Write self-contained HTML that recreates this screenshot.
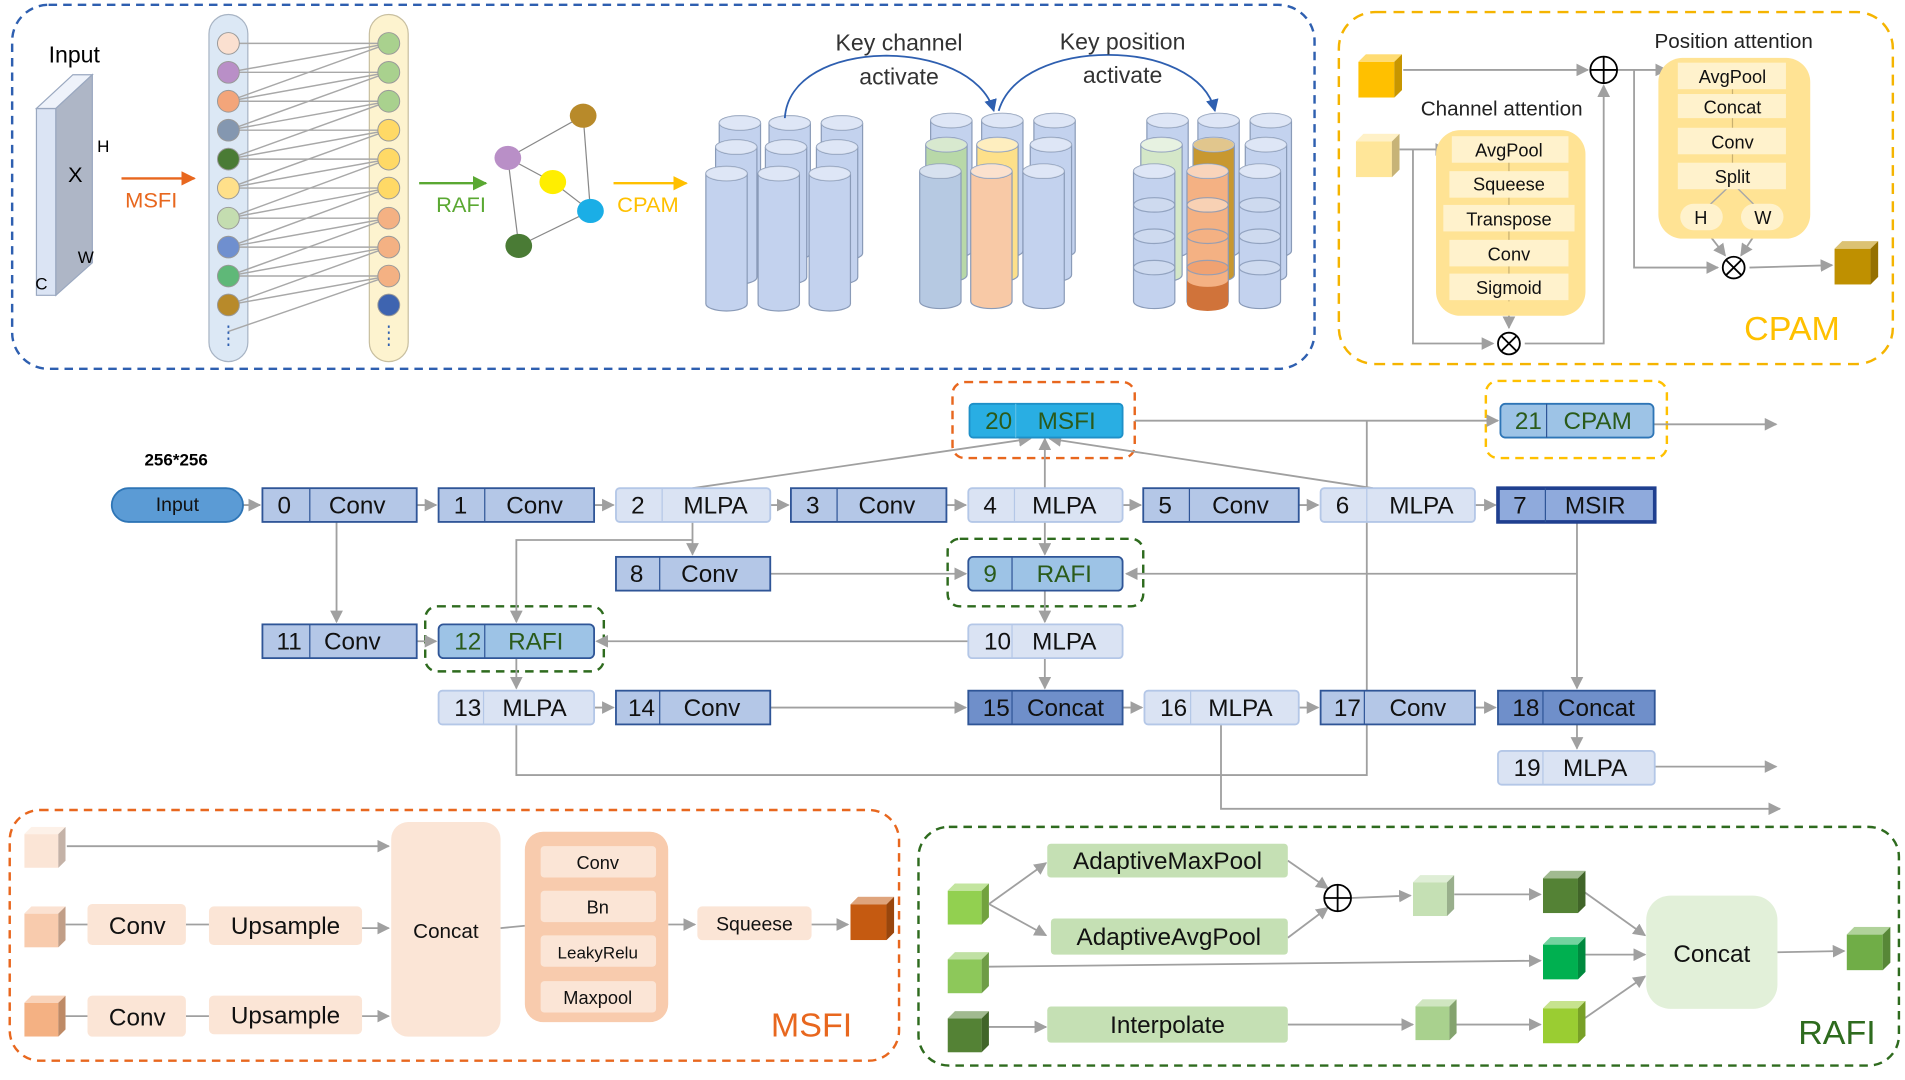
<!DOCTYPE html>
<html><head><meta charset="utf-8"><style>
html,body{margin:0;padding:0;background:#fff;}
svg{display:block;}
text{font-family:"Liberation Sans",sans-serif;}
</style></head><body>
<svg width="1905" height="1080" viewBox="0 0 1568 896" preserveAspectRatio="none" xmlns="http://www.w3.org/2000/svg">
<defs>
<marker id="ar" viewBox="0 0 10 10" refX="9" refY="5" markerWidth="7" markerHeight="7" orient="auto"><path d="M0,0L10,5L0,10z" fill="#a0a0a0"/></marker>
<marker id="ab" viewBox="0 0 10 10" refX="9" refY="5" markerWidth="7" markerHeight="7" orient="auto"><path d="M0,0L10,5L0,10z" fill="#2e5fb0"/></marker>
<marker id="ao" viewBox="0 0 10 10" refX="9" refY="5" markerWidth="6" markerHeight="6" orient="auto"><path d="M0,0L10,5L0,10z" fill="#e8671e"/></marker>
<marker id="ag" viewBox="0 0 10 10" refX="9" refY="5" markerWidth="6" markerHeight="6" orient="auto"><path d="M0,0L10,5L0,10z" fill="#5aa832"/></marker>
<marker id="ay" viewBox="0 0 10 10" refX="9" refY="5" markerWidth="6" markerHeight="6" orient="auto"><path d="M0,0L10,5L0,10z" fill="#ffc000"/></marker>
<symbol id="cube" viewBox="0 0 34 34">
<rect x="0" y="6" width="28" height="28" fill="currentColor"/>
<polygon points="0,6 6,0 34,0 28,6" fill="currentColor"/><polygon points="0,6 6,0 34,0 28,6" fill="#fff" opacity="0.45"/>
<polygon points="28,6 34,0 34,28 28,34" fill="currentColor"/><polygon points="28,6 34,0 34,28 28,34" fill="#000" opacity="0.22"/>
</symbol>
<symbol id="cyl" viewBox="0 0 36 122" overflow="visible">
<path d="M1,7 V115 A17,6 0 0 0 35,115 V7" fill="currentColor" stroke="#8a9bb8" stroke-width="1"/>
<ellipse cx="18" cy="7" rx="17" ry="6" fill="currentColor" stroke="#8a9bb8"/>
<ellipse cx="18" cy="7" rx="17" ry="6" fill="#fff" opacity="0.45"/>
</symbol>
</defs>

<!-- ============ TOP BLUE BOX ============ -->
<rect x="10" y="4" width="1072" height="302" rx="30" fill="none" stroke="#2e5fb0" stroke-width="2" stroke-dasharray="7,5"/>
<polygon points="30,90 46,90 46,245 30,245" fill="#dbe4f4" stroke="#9aa8c0"/>
<polygon points="30,90 60,62 76,62 46,90" fill="#eef2fa" stroke="#9aa8c0"/>
<polygon points="46,90 76,62 76,218 46,245" fill="#aeb6c6" stroke="#9aa8c0"/>
<text x="40" y="52" font-size="19">Input</text>
<text x="80" y="126" font-size="14">H</text>
<text x="56" y="151" font-size="18">X</text>
<text x="64" y="218" font-size="14">W</text>
<text x="29" y="240" font-size="14">C</text>
<line x1="100" y1="148" x2="160" y2="148" stroke="#e8671e" stroke-width="2" marker-end="url(#ao)"/>
<text x="103" y="172" font-size="18" fill="#e8671e">MSFI</text>

<!-- columns -->
<rect x="172" y="12" width="32" height="288" rx="16" fill="#dce8f5" stroke="#a8b4c4"/>
<rect x="304" y="12" width="32" height="288" rx="16" fill="#fdf3cf" stroke="#c8bfa0"/>
<g stroke="#a8a8a8" stroke-width="1.2">
<line x1="188" y1="36" x2="320" y2="36"/><line x1="188" y1="60" x2="320" y2="60"/><line x1="188" y1="84" x2="320" y2="84"/><line x1="188" y1="108" x2="320" y2="108"/><line x1="188" y1="132" x2="320" y2="132"/><line x1="188" y1="156" x2="320" y2="156"/><line x1="188" y1="181" x2="320" y2="181"/><line x1="188" y1="205" x2="320" y2="205"/><line x1="188" y1="229" x2="320" y2="229"/>
<line x1="188" y1="60" x2="320" y2="36"/><line x1="188" y1="84" x2="320" y2="60"/><line x1="188" y1="108" x2="320" y2="84"/><line x1="188" y1="132" x2="320" y2="108"/><line x1="188" y1="156" x2="320" y2="132"/><line x1="188" y1="181" x2="320" y2="156"/><line x1="188" y1="205" x2="320" y2="181"/><line x1="188" y1="229" x2="320" y2="205"/><line x1="188" y1="253" x2="320" y2="229"/>
<line x1="188" y1="84" x2="320" y2="36"/><line x1="188" y1="108" x2="320" y2="60"/><line x1="188" y1="132" x2="320" y2="84"/><line x1="188" y1="156" x2="320" y2="108"/><line x1="188" y1="181" x2="320" y2="132"/><line x1="188" y1="205" x2="320" y2="156"/><line x1="188" y1="229" x2="320" y2="181"/><line x1="188" y1="253" x2="320" y2="205"/><line x1="188" y1="275" x2="320" y2="229"/>
</g>
<g stroke="#999" stroke-width="0.8">
<circle cx="188" cy="36" r="9" fill="#fbe0d0"/><circle cx="188" cy="60" r="9" fill="#b98fc7"/><circle cx="188" cy="84" r="9" fill="#f3a57a"/><circle cx="188" cy="108" r="9" fill="#8497b0"/><circle cx="188" cy="132" r="9" fill="#4a7b35"/><circle cx="188" cy="156" r="9" fill="#ffe08a"/><circle cx="188" cy="181" r="9" fill="#c4ddb0"/><circle cx="188" cy="205" r="9" fill="#6f8fcf"/><circle cx="188" cy="229" r="9" fill="#5fb878"/><circle cx="188" cy="253" r="9" fill="#b88a2a"/>
<circle cx="320" cy="36" r="9" fill="#a9d18e"/><circle cx="320" cy="60" r="9" fill="#a9d18e"/><circle cx="320" cy="84" r="9" fill="#a9d18e"/><circle cx="320" cy="108" r="9" fill="#ffd966"/><circle cx="320" cy="132" r="9" fill="#ffd966"/><circle cx="320" cy="156" r="9" fill="#ffd966"/><circle cx="320" cy="181" r="9" fill="#f4b183"/><circle cx="320" cy="205" r="9" fill="#f4b183"/><circle cx="320" cy="229" r="9" fill="#f4b183"/><circle cx="320" cy="253" r="9" fill="#3e64b0"/>
</g>
<line x1="188" y1="270" x2="188" y2="290" stroke="#2e5fb0" stroke-width="1.5" stroke-dasharray="2,3"/>
<line x1="320" y1="270" x2="320" y2="290" stroke="#2e5fb0" stroke-width="1.5" stroke-dasharray="2,3"/>

<line x1="345" y1="152" x2="400" y2="152" stroke="#5aa832" stroke-width="2" marker-end="url(#ag)"/>
<text x="359" y="176" font-size="18" fill="#5aa832">RAFI</text>
<g stroke="#888" stroke-width="1">
<line x1="480" y1="96" x2="418" y2="131"/><line x1="480" y1="96" x2="486" y2="175"/><line x1="418" y1="131" x2="455" y2="151"/><line x1="455" y1="151" x2="486" y2="175"/><line x1="418" y1="131" x2="427" y2="204"/><line x1="427" y1="204" x2="486" y2="175"/>
</g>
<ellipse cx="480" cy="96" rx="11" ry="10" fill="#b88a2a"/><ellipse cx="418" cy="131" rx="11" ry="10" fill="#b98fc7"/><ellipse cx="455" cy="151" rx="11" ry="10" fill="#ffee00"/><ellipse cx="486" cy="175" rx="11" ry="10" fill="#1aaee6"/><ellipse cx="427" cy="204" rx="11" ry="10" fill="#4a7b35"/>
<line x1="505" y1="152" x2="565" y2="152" stroke="#ffc000" stroke-width="2" marker-end="url(#ay)"/>
<text x="508" y="176" font-size="18" fill="#ffc000">CPAM</text>

<!-- cylinders group 1 -->
<g style="color:#c3d2ee">
<use href="#cyl" x="591" y="95" width="36" height="122"/><use href="#cyl" x="632" y="95" width="36" height="122"/><use href="#cyl" x="675" y="95" width="36" height="122"/>
<use href="#cyl" x="588" y="115" width="36" height="122"/><use href="#cyl" x="629" y="115" width="36" height="122"/><use href="#cyl" x="671" y="115" width="36" height="122"/>
<use href="#cyl" x="580" y="137" width="36" height="122"/><use href="#cyl" x="623" y="137" width="36" height="122"/><use href="#cyl" x="665" y="137" width="36" height="122"/>
</g>
<!-- group 2 -->
<g style="color:#c3d2ee">
<use href="#cyl" x="765" y="93" width="36" height="122"/><use href="#cyl" x="807" y="93" width="36" height="122"/><use href="#cyl" x="850" y="93" width="36" height="122"/>
<use href="#cyl" x="761" y="113" width="36" height="122" style="color:#b8d8a8"/><use href="#cyl" x="803" y="113" width="36" height="122" style="color:#fde08a"/><use href="#cyl" x="847" y="113" width="36" height="122"/>
<use href="#cyl" x="756" y="135" width="36" height="122" style="color:#b6c9e2"/><use href="#cyl" x="798" y="135" width="36" height="122" style="color:#f8c9a6"/><use href="#cyl" x="841" y="135" width="36" height="122"/>
</g>
<!-- group 3 -->
<g style="color:#c3d2ee">
<use href="#cyl" x="943" y="93" width="36" height="122"/><use href="#cyl" x="985" y="93" width="36" height="122"/><use href="#cyl" x="1028" y="93" width="36" height="122"/>
<use href="#cyl" x="938" y="113" width="36" height="122" style="color:#d4e7c8"/><use href="#cyl" x="981" y="113" width="36" height="122" style="color:#c89830"/><use href="#cyl" x="1024" y="113" width="36" height="122"/>
<use href="#cyl" x="932" y="135" width="36" height="122"/><use href="#cyl" x="976" y="135" width="36" height="122" style="color:#f4b183"/><use href="#cyl" x="1019" y="135" width="36" height="122"/>
</g>
<g stroke="#8a9bb8" fill="#d0dcf0" opacity="0.85">
<ellipse cx="950" cy="170" rx="17" ry="6"/><ellipse cx="950" cy="196" rx="17" ry="6"/><ellipse cx="950" cy="222" rx="17" ry="6"/>
<ellipse cx="1037" cy="170" rx="17" ry="6"/><ellipse cx="1037" cy="196" rx="17" ry="6"/><ellipse cx="1037" cy="222" rx="17" ry="6"/>
<ellipse cx="994" cy="170" rx="17" ry="6" fill="#f9d7bd"/><ellipse cx="994" cy="196" rx="17" ry="6" fill="#f4b183"/><ellipse cx="994" cy="222" rx="17" ry="6" fill="#f0a070"/>
</g>
<path d="M977,232 V252 A17,6 0 0 0 1011,252 V232 A17,6 0 0 1 977,232z" fill="#d0733a"/>
<path d="M646,98 C650,30 800,30 818,92" fill="none" stroke="#2e5fb0" stroke-width="1.5" marker-end="url(#ab)"/>
<path d="M822,92 C840,30 985,30 1000,92" fill="none" stroke="#2e5fb0" stroke-width="1.5" marker-end="url(#ab)"/>
<text x="740" y="42" font-size="19" text-anchor="middle" fill="#333">Key channel</text>
<text x="740" y="70" font-size="19" text-anchor="middle" fill="#333">activate</text>
<text x="924" y="41" font-size="19" text-anchor="middle" fill="#333">Key position</text>
<text x="924" y="69" font-size="19" text-anchor="middle" fill="#333">activate</text>

<!-- ============ CPAM BOX ============ -->
<rect x="1102" y="10" width="456" height="292" rx="30" fill="none" stroke="#f5b400" stroke-width="2" stroke-dasharray="9,6"/>
<use href="#cube" x="1118" y="45" width="36" height="36" style="color:#ffc000"/>
<use href="#cube" x="1116" y="111" width="36" height="36" style="color:#ffe699"/>
<g stroke="#a0a0a0" stroke-width="1.5" fill="none">
<line x1="1155" y1="58" x2="1307" y2="58" marker-end="url(#ar)"/>
<line x1="1331" y1="58" x2="1372" y2="58" marker-end="url(#ar)"/>
<polyline points="1345,58 1345,222 1414,222" marker-end="url(#ar)"/>
<line x1="1440" y1="222" x2="1508" y2="220" marker-end="url(#ar)"/>
<line x1="1152" y1="124" x2="1191" y2="124" marker-end="url(#ar)"/>
<polyline points="1163,124 1163,285 1229,285" marker-end="url(#ar)"/>
<polyline points="1255,285 1320,285 1320,71" marker-end="url(#ar)"/>
<line x1="1242" y1="248" x2="1242" y2="272" marker-end="url(#ar)"/>
<line x1="1400" y1="186" x2="1420" y2="212" marker-end="url(#ar)"/>
<line x1="1450" y1="186" x2="1433" y2="212" marker-end="url(#ar)"/>
</g>
<circle cx="1320" cy="58" r="11" fill="#fff" stroke="#000" stroke-width="1.5"/><path d="M1309,58H1331M1320,47V69" stroke="#000" stroke-width="1.5"/>
<text x="1427" y="40" font-size="17" text-anchor="middle" fill="#222">Position attention</text>
<rect x="1365" y="48" width="125" height="150" rx="20" fill="#ffe394"/>
<line x1="1426" y1="70" x2="1426" y2="150" stroke="#c8b070"/>
<path d="M1426,152 L1401,176 M1426,152 L1450,176" stroke="#a8a8a8" stroke-width="1.2"/>
<g fill="#fff2cc"><rect x="1381" y="52" width="89" height="22"/><rect x="1381" y="78" width="89" height="20"/><rect x="1381" y="106" width="89" height="22"/><rect x="1381" y="135" width="89" height="22"/><rect x="1383" y="169" width="35" height="22" rx="11"/><rect x="1433" y="169" width="35" height="22" rx="11"/></g>
<g font-size="15" text-anchor="middle" fill="#111"><text x="1426" y="69">AvgPool</text><text x="1426" y="94">Concat</text><text x="1426" y="123">Conv</text><text x="1426" y="152">Split</text><text x="1400" y="186">H</text><text x="1451" y="186">W</text></g>
<circle cx="1427" cy="222" r="9" fill="#fff" stroke="#000" stroke-width="1.5"/><path d="M1421,216L1433,228M1433,216L1421,228" stroke="#000" stroke-width="1.5"/>
<use href="#cube" x="1510" y="200" width="36" height="36" style="color:#bf9000"/>
<text x="1236" y="96" font-size="17" text-anchor="middle" fill="#222">Channel attention</text>
<rect x="1182" y="108" width="123" height="154" rx="20" fill="#ffe394"/>
<line x1="1242" y1="130" x2="1242" y2="250" stroke="#c8b070"/>
<g fill="#fff2cc"><rect x="1195" y="113" width="96" height="22"/><rect x="1193" y="142" width="98" height="22"/><rect x="1188" y="170" width="108" height="22"/><rect x="1193" y="199" width="98" height="22"/><rect x="1193" y="227" width="98" height="22"/></g>
<g font-size="15" text-anchor="middle" fill="#111"><text x="1242" y="130">AvgPool</text><text x="1242" y="158">Squeese</text><text x="1242" y="187">Transpose</text><text x="1242" y="216">Conv</text><text x="1242" y="244">Sigmoid</text></g>
<circle cx="1242" cy="285" r="9" fill="#fff" stroke="#000" stroke-width="1.5"/><path d="M1236,279L1248,291M1248,279L1236,291" stroke="#000" stroke-width="1.5"/>
<text x="1475" y="282" font-size="28" text-anchor="middle" fill="#ffc000">CPAM</text>

<!-- ============ NETWORK ============ -->
<text x="145" y="386" font-size="14" font-weight="bold" text-anchor="middle">256*256</text>
<rect x="784" y="317" width="150" height="63" rx="10" fill="none" stroke="#e8671e" stroke-width="2" stroke-dasharray="7,5"/>
<rect x="1223" y="316" width="149" height="64" rx="10" fill="none" stroke="#ffc000" stroke-width="2" stroke-dasharray="7,5"/>
<rect x="780" y="447" width="161" height="56" rx="10" fill="none" stroke="#2e6b1e" stroke-width="2" stroke-dasharray="7,5"/>
<rect x="350" y="503" width="147" height="54" rx="10" fill="none" stroke="#2e6b1e" stroke-width="2" stroke-dasharray="7,5"/>

<g stroke="#a0a0a0" stroke-width="1.5" fill="none">
<line x1="200" y1="419" x2="214" y2="419" marker-end="url(#ar)"/>
<line x1="343" y1="419" x2="359" y2="419" marker-end="url(#ar)"/>
<line x1="489" y1="419" x2="505" y2="419" marker-end="url(#ar)"/>
<line x1="634" y1="419" x2="649" y2="419" marker-end="url(#ar)"/>
<line x1="779" y1="419" x2="795" y2="419" marker-end="url(#ar)"/>
<line x1="924" y1="419" x2="939" y2="419" marker-end="url(#ar)"/>
<line x1="1069" y1="419" x2="1085" y2="419" marker-end="url(#ar)"/>
<line x1="1214" y1="419" x2="1231" y2="419" marker-end="url(#ar)"/>
<line x1="277" y1="433" x2="277" y2="516" marker-end="url(#ar)"/>
<line x1="570" y1="405" x2="848" y2="364" marker-end="url(#ar)"/>
<line x1="860" y1="405" x2="860" y2="364" marker-end="url(#ar)"/>
<line x1="1130" y1="405" x2="864" y2="364" marker-end="url(#ar)"/>
<line x1="934" y1="349" x2="1233" y2="349" marker-end="url(#ar)"/>
<line x1="1361" y1="352" x2="1462" y2="352" marker-end="url(#ar)"/>
<polyline points="425,601 425,643 1125,643 1125,349"/>
<line x1="570" y1="433" x2="570" y2="460" marker-end="url(#ar)"/>
<polyline points="570,448 425,448 425,516" marker-end="url(#ar)"/>
<line x1="634" y1="476" x2="795" y2="476" marker-end="url(#ar)"/>
<line x1="860" y1="433" x2="860" y2="460" marker-end="url(#ar)"/>
<line x1="860" y1="490" x2="860" y2="516" marker-end="url(#ar)"/>
<line x1="1298" y1="433" x2="1298" y2="571" marker-end="url(#ar)"/>
<line x1="1298" y1="476" x2="927" y2="476" marker-end="url(#ar)"/>
<line x1="797" y1="532" x2="491" y2="532" marker-end="url(#ar)"/>
<line x1="860" y1="546" x2="860" y2="571" marker-end="url(#ar)"/>
<line x1="343" y1="532" x2="359" y2="532" marker-end="url(#ar)"/>
<line x1="425" y1="546" x2="425" y2="571" marker-end="url(#ar)"/>
<line x1="489" y1="587" x2="505" y2="587" marker-end="url(#ar)"/>
<line x1="634" y1="587" x2="795" y2="587" marker-end="url(#ar)"/>
<line x1="924" y1="587" x2="940" y2="587" marker-end="url(#ar)"/>
<line x1="1069" y1="587" x2="1085" y2="587" marker-end="url(#ar)"/>
<line x1="1214" y1="587" x2="1231" y2="587" marker-end="url(#ar)"/>
<line x1="1298" y1="601" x2="1298" y2="621" marker-end="url(#ar)"/>
<line x1="1362" y1="636" x2="1462" y2="636" marker-end="url(#ar)"/>
<polyline points="1005,601 1005,671 1465,671" marker-end="url(#ar)"/>
</g>

<rect x="92" y="405" width="108" height="28" rx="14" fill="#5b9bd5" stroke="#2e75b6" stroke-width="1.5"/>
<text x="146" y="424" font-size="16" text-anchor="middle" fill="#111">Input</text>

<g font-size="20" fill="#111">
<!-- conv style -->
<g stroke="#2f5597" stroke-width="1.5" fill="#b4c7e7">
<rect x="216" y="405" width="127" height="28"/><rect x="361" y="405" width="128" height="28"/><rect x="651" y="405" width="128" height="28"/><rect x="941" y="405" width="128" height="28"/>
<rect x="507" y="462" width="127" height="28"/><rect x="216" y="518" width="127" height="28"/><rect x="507" y="573" width="127" height="28"/><rect x="1087" y="573" width="127" height="28"/>
</g>
<g stroke="#b4c7e7" stroke-width="1.5" fill="#dae3f3">
<rect x="507" y="405" width="127" height="28" rx="3"/><rect x="797" y="405" width="127" height="28" rx="3"/><rect x="1087" y="405" width="127" height="28" rx="3"/>
<rect x="797" y="518" width="127" height="28" rx="3"/><rect x="361" y="573" width="128" height="28" rx="3"/><rect x="942" y="573" width="127" height="28" rx="3"/><rect x="1233" y="623" width="129" height="28" rx="3"/>
</g>
<g stroke="#2f5597" stroke-width="1.5" fill="#6f8fca">
<rect x="797" y="573" width="127" height="28"/><rect x="1233" y="573" width="129" height="28"/>
</g>
<rect x="1233" y="405" width="129" height="28" fill="#8faadc" stroke="#1f3f8f" stroke-width="3"/>
<rect x="798" y="335" width="126" height="28" rx="3" fill="#29aee3" stroke="#1e90c8" stroke-width="1.5"/>
<rect x="1235" y="335" width="126" height="28" rx="4" fill="#9dc3e6" stroke="#2e75b6" stroke-width="1.5"/>
<rect x="797" y="462" width="127" height="28" rx="4" fill="#9dc3e6" stroke="#2f5597" stroke-width="1.5"/>
<rect x="361" y="518" width="128" height="28" rx="4" fill="#9dc3e6" stroke="#2f5597" stroke-width="1.5"/>
<g stroke="#2f5597" stroke-width="1">
<line x1="255" y1="405" x2="255" y2="433"/><line x1="399" y1="405" x2="399" y2="433"/><line x1="545" y1="405" x2="545" y2="433" stroke="#b4c7e7"/><line x1="689" y1="405" x2="689" y2="433"/><line x1="835" y1="405" x2="835" y2="433" stroke="#b4c7e7"/><line x1="979" y1="405" x2="979" y2="433"/><line x1="1125" y1="405" x2="1125" y2="433" stroke="#b4c7e7"/><line x1="1272" y1="405" x2="1272" y2="433"/>
<line x1="836" y1="335" x2="836" y2="363" stroke="#5ac0e8"/><line x1="1273" y1="335" x2="1273" y2="363"/>
<line x1="543" y1="462" x2="543" y2="490"/><line x1="833" y1="462" x2="833" y2="490"/>
<line x1="255" y1="518" x2="255" y2="546"/><line x1="399" y1="518" x2="399" y2="546"/><line x1="833" y1="518" x2="833" y2="546" stroke="#b4c7e7"/>
<line x1="398" y1="573" x2="398" y2="601" stroke="#b4c7e7"/><line x1="543" y1="573" x2="543" y2="601"/><line x1="833" y1="573" x2="833" y2="601"/><line x1="980" y1="573" x2="980" y2="601" stroke="#b4c7e7"/><line x1="1123" y1="573" x2="1123" y2="601"/><line x1="1270" y1="573" x2="1270" y2="601"/><line x1="1270" y1="623" x2="1270" y2="651" stroke="#b4c7e7"/>
</g>
<g text-anchor="middle">
<text x="234" y="426">0</text><text x="294" y="426">Conv</text>
<text x="379" y="426">1</text><text x="440" y="426">Conv</text>
<text x="525" y="426">2</text><text x="589" y="426">MLPA</text>
<text x="669" y="426">3</text><text x="730" y="426">Conv</text>
<text x="815" y="426">4</text><text x="876" y="426">MLPA</text>
<text x="959" y="426">5</text><text x="1021" y="426">Conv</text>
<text x="1105" y="426">6</text><text x="1170" y="426">MLPA</text>
<text x="1251" y="426">7</text><text x="1313" y="426">MSIR</text>
<text x="822" y="356" fill="#2a5a1a">20</text><text x="878" y="356" fill="#2a5a1a">MSFI</text>
<text x="1258" y="356" fill="#2a5a1a">21</text><text x="1315" y="356" fill="#2a5a1a">CPAM</text>
<text x="524" y="483">8</text><text x="584" y="483">Conv</text>
<text x="815" y="483" fill="#2a5a1a">9</text><text x="876" y="483" fill="#2a5a1a">RAFI</text>
<text x="238" y="539">11</text><text x="290" y="539">Conv</text>
<text x="385" y="539" fill="#2a5a1a">12</text><text x="441" y="539" fill="#2a5a1a">RAFI</text>
<text x="821" y="539">10</text><text x="876" y="539">MLPA</text>
<text x="385" y="594">13</text><text x="440" y="594">MLPA</text>
<text x="528" y="594">14</text><text x="586" y="594">Conv</text>
<text x="820" y="594">15</text><text x="877" y="594">Concat</text>
<text x="966" y="594">16</text><text x="1021" y="594">MLPA</text>
<text x="1109" y="594">17</text><text x="1167" y="594">Conv</text>
<text x="1256" y="594">18</text><text x="1314" y="594">Concat</text>
<text x="1257" y="644">19</text><text x="1313" y="644">MLPA</text>
</g>
</g>

<!-- ============ MSFI BOX ============ -->
<rect x="8" y="672" width="732" height="208" rx="25" fill="none" stroke="#e8671e" stroke-width="2" stroke-dasharray="7,5"/>
<use href="#cube" x="20" y="686" width="34" height="34" style="color:#fbe5d6"/>
<use href="#cube" x="20" y="752" width="34" height="34" style="color:#f8cbad"/>
<use href="#cube" x="20" y="826" width="34" height="34" style="color:#f4b183"/>
<g stroke="#a0a0a0" stroke-width="1.5">
<line x1="55" y1="702" x2="320" y2="702" marker-end="url(#ar)"/>
<line x1="54" y1="767" x2="72" y2="767"/><line x1="153" y1="767" x2="172" y2="767"/><line x1="298" y1="770" x2="320" y2="770" marker-end="url(#ar)"/>
<line x1="54" y1="843" x2="72" y2="843"/><line x1="153" y1="843" x2="172" y2="843"/><line x1="298" y1="843" x2="320" y2="843" marker-end="url(#ar)"/>
<line x1="412" y1="770" x2="432" y2="768"/>
<line x1="550" y1="767" x2="572" y2="767" marker-end="url(#ar)"/>
<line x1="668" y1="767" x2="698" y2="767" marker-end="url(#ar)"/>
</g>
<g fill="#fbe5d6"><rect x="72" y="750" width="81" height="34" rx="4"/><rect x="172" y="752" width="126" height="32" rx="4"/><rect x="72" y="826" width="81" height="34" rx="4"/><rect x="172" y="826" width="126" height="32" rx="4"/><rect x="322" y="682" width="90" height="178" rx="14"/><rect x="574" y="752" width="94" height="28" rx="4"/></g>
<rect x="432" y="690" width="118" height="158" rx="15" fill="#f8cbad"/>
<g fill="#fbe5d6"><rect x="445" y="702" width="95" height="26" rx="3"/><rect x="445" y="739" width="95" height="26" rx="3"/><rect x="445" y="776" width="95" height="26" rx="3"/><rect x="445" y="814" width="95" height="26" rx="3"/></g>
<use href="#cube" x="700" y="744" width="36" height="36" style="color:#c55a11"/>
<g text-anchor="middle" fill="#111">
<text x="113" y="775" font-size="20">Conv</text><text x="235" y="775" font-size="20">Upsample</text>
<text x="113" y="851" font-size="20">Conv</text><text x="235" y="849" font-size="20">Upsample</text>
<text x="367" y="778" font-size="17">Concat</text>
<text x="492" y="721" font-size="15">Conv</text><text x="492" y="758" font-size="15">Bn</text><text x="492" y="795" font-size="14">LeakyRelu</text><text x="492" y="833" font-size="15">Maxpool</text>
<text x="621" y="772" font-size="16">Squeese</text>
</g>
<text x="668" y="860" font-size="28" text-anchor="middle" fill="#e8671e">MSFI</text>

<!-- ============ RAFI BOX ============ -->
<rect x="756" y="686" width="807" height="198" rx="25" fill="none" stroke="#2e6b1e" stroke-width="2" stroke-dasharray="7,5"/>
<use href="#cube" x="780" y="732" width="34" height="36" style="color:#92d050"/>
<use href="#cube" x="780" y="789" width="34" height="36" style="color:#8dc85a"/>
<use href="#cube" x="780" y="838" width="34" height="36" style="color:#548235"/>
<g stroke="#a0a0a0" stroke-width="1.5">
<line x1="814" y1="750" x2="861" y2="716" marker-end="url(#ar)"/>
<line x1="814" y1="750" x2="861" y2="776" marker-end="url(#ar)"/>
<line x1="1060" y1="714" x2="1093" y2="737" marker-end="url(#ar)"/>
<line x1="1060" y1="778" x2="1093" y2="753" marker-end="url(#ar)"/>
<line x1="1112" y1="745" x2="1161" y2="743" marker-end="url(#ar)"/>
<line x1="1197" y1="742" x2="1268" y2="742" marker-end="url(#ar)"/>
<line x1="1304" y1="740" x2="1354" y2="776" marker-end="url(#ar)"/>
<line x1="814" y1="802" x2="1268" y2="797" marker-end="url(#ar)"/>
<line x1="1305" y1="792" x2="1354" y2="792" marker-end="url(#ar)"/>
<line x1="814" y1="852" x2="861" y2="852" marker-end="url(#ar)"/>
<line x1="1060" y1="850" x2="1163" y2="850" marker-end="url(#ar)"/>
<line x1="1198" y1="850" x2="1268" y2="850" marker-end="url(#ar)"/>
<line x1="1304" y1="845" x2="1354" y2="810" marker-end="url(#ar)"/>
<line x1="1463" y1="790" x2="1518" y2="789" marker-end="url(#ar)"/>
</g>
<g fill="#c5e0b4"><rect x="862" y="700" width="198" height="28" rx="3"/><rect x="865" y="762" width="195" height="30" rx="3"/><rect x="862" y="835" width="198" height="30" rx="3"/></g>
<circle cx="1101" cy="745" r="11" fill="#fff" stroke="#000" stroke-width="1.5"/><path d="M1090,745H1112M1101,734V756" stroke="#000" stroke-width="1.5"/>
<use href="#cube" x="1163" y="726" width="34" height="34" style="color:#c5e0b4"/>
<use href="#cube" x="1270" y="722" width="35" height="36" style="color:#548235"/>
<use href="#cube" x="1270" y="777" width="35" height="36" style="color:#00b050"/>
<use href="#cube" x="1165" y="829" width="34" height="34" style="color:#a9d18e"/>
<use href="#cube" x="1270" y="830" width="35" height="36" style="color:#9acd32"/>
<rect x="1355" y="743" width="108" height="94" rx="20" fill="#e2f0d9"/>
<use href="#cube" x="1520" y="769" width="36" height="36" style="color:#70ad47"/>
<g text-anchor="middle" fill="#111">
<text x="961" y="721" font-size="20">AdaptiveMaxPool</text>
<text x="962" y="784" font-size="20">AdaptiveAvgPool</text>
<text x="961" y="857" font-size="20">Interpolate</text>
<text x="1409" y="798" font-size="20">Concat</text>
</g>
<text x="1512" y="866" font-size="28" text-anchor="middle" fill="#2e6b1e">RAFI</text>
</svg>
</body></html>
